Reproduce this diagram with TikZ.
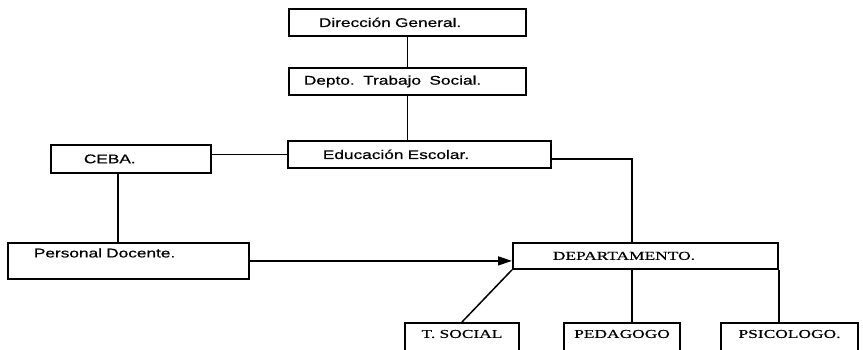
\documentclass[tikz,border=0pt]{standalone}
\usepackage{fontspec}
\usetikzlibrary{arrows.meta}
\newfontfamily\sansbox[FakeStretch=1.37,FakeBold=0.6]{Liberation Sans}
\newfontfamily\serifbox[FakeStretch=1.45,FakeBold=0.4]{Liberation Serif}

\begin{document}
\begin{tikzpicture}
      [x=1pt, y=-1pt,
       unit/.style={
           rectangle,
           draw=black, line width=1.8pt,
           anchor=north west,
           align=left,
           inner ysep=0pt,
           font={\sansbox\fontsize{12.6}{14}\selectfont}
         },
       staff/.style={
           rectangle,
           draw=black, line width=1.8pt,
           anchor=north,
           minimum height=34pt,
           text height=8pt, text depth=12pt,
           font={\serifbox\fontsize{12}{14}\selectfont}
         },
       link/.style={draw=black, line width=1.5pt},
       ]
    \useasboundingbox (0,0) rectangle (863,349);

    \node [unit, inner xsep=30pt, text width=177pt, minimum height=27pt] (direccion) at (288,8) {Dirección General.};
    \node [unit, inner xsep=15pt, text width=207pt, minimum height=27pt] (depto) at (288,67) {Depto.\ \ Trabajo\ \ Social.};
    \node [unit, inner xsep=35pt, text width=193pt, minimum height=27pt] (educacion) at (287,140) {Educación Escolar.};
    \node [unit, inner xsep=33pt, text width=94pt, minimum height=28pt] (ceba) at (50,144) {CEBA.};
    \node [unit, inner xsep=26pt, text width=189pt, minimum height=36pt,
           text height=10pt, text depth=17pt] (docente) at (7,242) {Personal Docente.};
    \node [unit, inner xsep=40pt, text width=185pt, minimum height=26pt,
           font={\serifbox\fontsize{12}{14}\selectfont}] (departamento) at (512,242) {DEPARTAMENTO.};

    \node [staff, minimum width=114pt] (tsocial) at (462,322) {T. SOCIAL};
    \node [staff, minimum width=116pt] (pedagogo) at (622,322) {PEDAGOGO};
    \node [staff, minimum width=137pt] (psicologo) at (789.5,322) {PSICOLOGO.};

    \coordinate (cebadown) at ([xshift=-13pt]ceba.south);
    \coordinate (deptin) at ([xshift=-13.5pt]departamento.north);
    \coordinate (educout) at ([yshift=-4.5pt]educacion.east);

    \draw [link] (direccion.south) -- (depto.north);
    \draw [link] (depto.south) -- (depto.south |- educacion.north);
    \draw [link] (ceba.east |- educacion.west) -- (educacion.west);
    \draw [link] (cebadown) -- (cebadown |- docente.north);
    \draw [link] (educout) -| (deptin);
    \draw [link, -{Triangle[length=14pt,width=9pt]}] (docente.east) -- (docente.east -| departamento.west);
    \draw [link] (departamento.south west) -- (tsocial.north);
    \draw [link] (deptin |- departamento.south) -- (deptin |- pedagogo.north);
    \draw [link] (departamento.south east) -- (departamento.south east |- psicologo.north);
\end{tikzpicture}
\end{document}
